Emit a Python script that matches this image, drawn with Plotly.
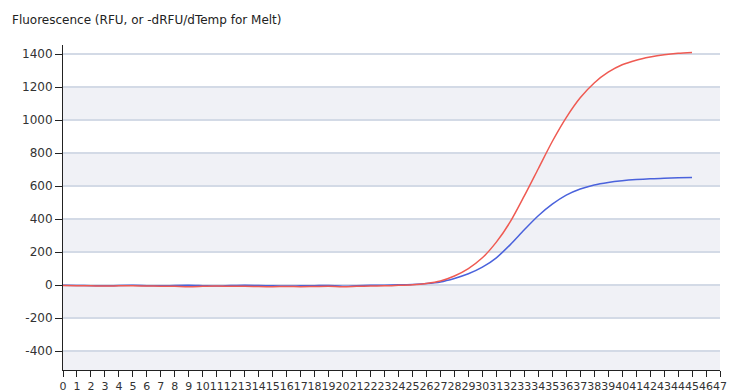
import plotly.graph_objects as go

# Amplification data: cycle number vs fluorescence (RFU)
cycles = list(range(0, 46))

red_rfu = [-3, -4, -5, -6, -5, -4, -6, -7, -8, -10,
           -8, -6, -8, -7, -9, -10, -9, -10, -9, -8,
           -10, -8, -6, -5, -2, 2, 10, 25, 55, 100,
           165, 260, 384, 540, 705, 870, 1015, 1135, 1225, 1290,
           1335, 1363, 1382, 1396, 1405, 1410]

blue_rfu = [-2, -3, -4, -5, -3, -2, -4, -5, -3, -2,
            -4, -6, -3, -1, -3, -5, -6, -5, -4, -3,
            -7, -4, -2, -1, 1, 4, 9, 19, 40, 68,
            108, 165, 245, 335, 420, 490, 545, 582, 607, 622,
            632, 639, 644, 647, 650, 652]

y_ticks = [-400, -200, 0, 200, 400, 600, 800, 1000, 1200, 1400]
x_ticks = list(range(0, 48))

Y_MIN, Y_MAX = -515, 1455
X_MIN, X_MAX = 0, 47

fig = go.Figure()

# Alternating shaded bands between gridlines
band_edges = [Y_MIN] + y_ticks + [Y_MAX]
shapes = []
for lo, hi in zip(band_edges[:-1], band_edges[1:]):
    if lo in (Y_MIN, 1000, 600, 200, -200):
        shapes.append(dict(type="rect", xref="paper", yref="y", x0=0, x1=1,
                           y0=lo, y1=hi, fillcolor="#f0f1f6",
                           line=dict(width=0), layer="below"))

fig.add_trace(go.Scatter(x=cycles, y=blue_rfu, mode="lines",
                         line=dict(color="#4a62dc", width=1.5,
                                   shape="spline", smoothing=0.8),
                         showlegend=False, hoverinfo="skip"))
fig.add_trace(go.Scatter(x=cycles, y=red_rfu, mode="lines",
                         line=dict(color="#ef5a52", width=1.5,
                                   shape="spline", smoothing=0.8),
                         showlegend=False, hoverinfo="skip"))

fig.update_layout(
    width=729, height=392,
    margin=dict(l=63, r=9, t=45, b=22),
    paper_bgcolor="white",
    plot_bgcolor="white",
    shapes=shapes,
    font=dict(family="DejaVu Sans", size=11, color="#333333"),
    annotations=[dict(text="Fluorescence (RFU, or -dRFU/dTemp for Melt)",
                      xref="paper", yref="paper", x=-63 / 657, y=1,
                      yshift=25, xshift=10, xanchor="left", yanchor="middle",
                      showarrow=False,
                      font=dict(family="DejaVu Sans", size=12, color="#222222"))],
)

fig.update_xaxes(
    range=[X_MIN, X_MAX],
    tickvals=x_ticks,
    ticktext=[str(v) for v in x_ticks],
    ticks="outside", ticklen=6, tickcolor="#222222", tickwidth=1,
    showline=True, linecolor="#222222", linewidth=1,
    showgrid=False, zeroline=False, automargin=False,
    tickfont=dict(family="DejaVu Sans", size=11, color="#333333"),
    tickangle=0,
)

fig.update_yaxes(
    range=[Y_MIN, Y_MAX],
    tickvals=y_ticks,
    ticktext=[str(v) for v in y_ticks],
    ticks="outside", ticklen=7, tickcolor="#222222", tickwidth=1,
    showline=True, linecolor="#222222", linewidth=1,
    showgrid=True, gridcolor="#d3dae6", gridwidth=2,
    zeroline=False, automargin=False,
    tickfont=dict(family="DejaVu Sans", size=12, color="#333333"),
)

fig.write_html("out.html")
